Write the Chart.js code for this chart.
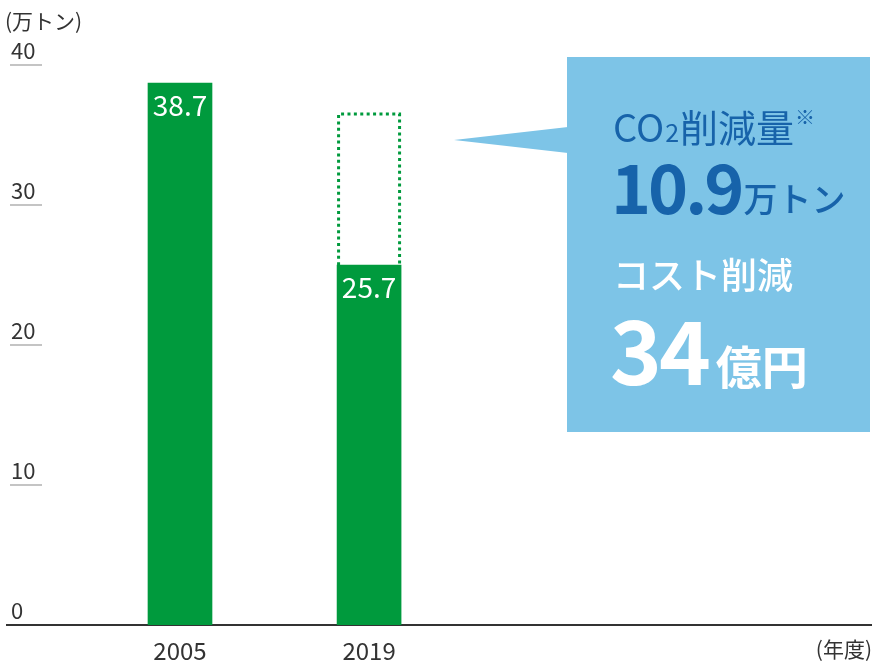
<!DOCTYPE html>
<html>
<head>
<meta charset="utf-8">
<script src="https://cdn.jsdelivr.net/npm/chart.js@4/dist/chart.umd.min.js"></script>
<style>
html,body{margin:0;padding:0;background:#fff;}
#wrap{width:872px;height:664px;position:relative;}
</style>
</head>
<body>
<div id="wrap"><canvas id="c" width="872" height="664"></canvas></div>
<script>
const years = ['2005', '2019'];
const emissions = [38.7, 25.7];
const reduction = [null, 10.9];
const yTickValues = [0, 10, 20, 30, 40];
const unitLabel = '(万トン)';
const xUnitLabel = '(年度)';
const calloutLines = {
  co2Title: 'CO',
  co2Sub: '2',
  co2Rest: '削減量',
  co2Note: '※',
  co2Value: '10.9',
  co2Unit: '万トン',
  costTitle: 'コスト削減',
  costValue: '34',
  costUnit: '億円'
};

const FONT = '"Noto Sans CJK JP", "Noto Sans", sans-serif';
const GREEN = '#009a3d';

const decorPlugin = {
  id: 'decor',
  afterDatasetsDraw(chart) {
    const ctx = chart.ctx;
    const meta = chart.getDatasetMeta(1);
    ctx.save();
    ctx.strokeStyle = GREEN;
    ctx.lineWidth = 3;
    ctx.setLineDash([3, 3.4]);
    meta.data.forEach((el, i) => {
      if (reduction[i] == null) return;
      const p = el.getProps(['x', 'y', 'base', 'width'], true);
      const l = p.x - p.width / 2 + 1.5, r = p.x + p.width / 2 - 1.5;
      ctx.beginPath();
      ctx.moveTo(l, p.base);
      ctx.lineTo(l, p.y + 1.5);
      ctx.lineTo(r, p.y + 1.5);
      ctx.lineTo(r, p.base);
      ctx.stroke();
    });
    ctx.restore();

    const m0 = chart.getDatasetMeta(0);
    ctx.save();
    ctx.fillStyle = '#ffffff';
    ctx.font = '28px ' + FONT;
    ctx.textAlign = 'center';
    ctx.textBaseline = 'middle';
    m0.data.forEach((el, i) => {
      ctx.fillText(emissions[i].toFixed(1), el.x, el.y + 22);
    });
    ctx.restore();
  },
  afterDraw(chart) {
    const ctx = chart.ctx;
    const ys = chart.scales.y;
    ctx.save();
    ctx.strokeStyle = '#c4c4c4';
    ctx.lineWidth = 2;
    ys.ticks.forEach(t => {
      if (t.value === 0) return;
      const y = Math.round(ys.getPixelForValue(t.value));
      ctx.beginPath();
      ctx.moveTo(10, y);
      ctx.lineTo(42, y);
      ctx.stroke();
    });
    ctx.restore();

    ctx.save();
    ctx.fillStyle = '#333333';
    ctx.font = '21px ' + FONT;
    ctx.textBaseline = 'middle';
    ctx.textAlign = 'left';
    ctx.fillText(unitLabel, 5, 21);
    ctx.textAlign = 'right';
    ctx.fillText(xUnitLabel, 872, 649);
    ctx.restore();

    ctx.save();
    ctx.fillStyle = '#7dc4e7';
    ctx.fillRect(567, 57, 303, 375);
    ctx.beginPath();
    ctx.moveTo(568, 127);
    ctx.lineTo(454, 140);
    ctx.lineTo(568, 153);
    ctx.closePath();
    ctx.fill();

    ctx.textBaseline = 'alphabetic';
    ctx.textAlign = 'left';
    const blue = '#1763aa';
    ctx.fillStyle = blue;
    let x = 613;
    ctx.font = '38px ' + FONT;
    ctx.fillText(calloutLines.co2Title, x, 142);
    x += ctx.measureText(calloutLines.co2Title).width + 1;
    ctx.font = '25px ' + FONT;
    ctx.fillText(calloutLines.co2Sub, x, 142);
    x += ctx.measureText(calloutLines.co2Sub).width + 1;
    ctx.font = '38px ' + FONT;
    ctx.fillText(calloutLines.co2Rest, x, 142);
    x += ctx.measureText(calloutLines.co2Rest).width + 1;
    ctx.font = '20px ' + FONT;
    ctx.fillText(calloutLines.co2Note, x, 125);

    x = 611;
    ctx.font = 'bold 68px ' + FONT;
    ctx.letterSpacing = '-3px';
    ctx.fillText(calloutLines.co2Value, x, 214);
    x += ctx.measureText(calloutLines.co2Value).width + 2;
    ctx.letterSpacing = '0px';
    ctx.font = '500 34px ' + FONT;
    ctx.fillText(calloutLines.co2Unit, x, 212);

    ctx.fillStyle = '#ffffff';
    ctx.font = '500 36px ' + FONT;
    ctx.fillText(calloutLines.costTitle, 613, 289);
    x = 610;
    ctx.font = 'bold 88px ' + FONT;
    ctx.letterSpacing = '-3px';
    ctx.fillText(calloutLines.costValue, x, 385);
    x += ctx.measureText(calloutLines.costValue).width + 8;
    ctx.letterSpacing = '0px';
    ctx.font = 'bold 46px ' + FONT;
    ctx.fillText(calloutLines.costUnit, x, 384);
    ctx.restore();
  }
};

new Chart(document.getElementById('c'), {
  type: 'bar',
  data: {
    datasets: [
      {
        label: 'emissions',
        data: emissions.map((v, i) => ({ x: i, y: v })),
        backgroundColor: GREEN,
        borderWidth: 0,
        barThickness: 64
      },
      {
        label: 'reduction',
        data: reduction.map((v, i) => ({ x: i, y: v })),
        backgroundColor: 'rgba(0,0,0,0)',
        borderWidth: 0,
        barThickness: 64
      }
    ]
  },
  options: {
    responsive: false,
    animation: false,
    layout: { padding: { left: 7, right: 0, top: 65, bottom: 0 } },
    plugins: { legend: { display: false }, tooltip: { enabled: false }, title: { display: false } },
    scales: {
      x: {
        type: 'linear',
        stacked: true,
        offset: false,
        min: -0.915,
        max: 3.66,
        afterBuildTicks(axis) { axis.ticks = years.map((_, i) => ({ value: i })); },
        afterFit(axis) { axis.height = 39; },
        ticks: {
          callback: (v) => years[v] ?? '',
          color: '#333333',
          font: { family: FONT, size: 24 },
          padding: 3,
          maxRotation: 0,
          autoSkip: false
        },
        grid: { display: false, offset: false },
        border: { display: true, color: '#333333', width: 2 }
      },
      y: {
        stacked: true,
        min: 0,
        max: 40,
        afterBuildTicks(axis) { axis.ticks = yTickValues.map(v => ({ value: v })); },
        afterFit(axis) { axis.width = 0; },
        ticks: {
          mirror: true,
          padding: 4,
          labelOffset: -14,
          color: '#333333',
          font: { family: FONT, size: 22 }
        },
        grid: { display: false, drawTicks: false },
        border: { display: false }
      }
    }
  },
  plugins: [decorPlugin]
});
</script>
</body>
</html>
